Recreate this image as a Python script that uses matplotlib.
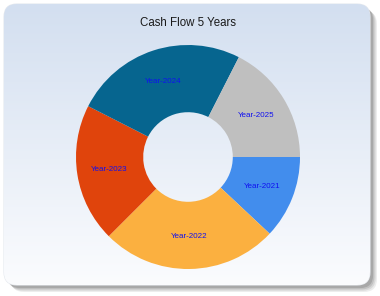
import numpy as np
import matplotlib

matplotlib.use('Agg')
import matplotlib.pyplot as plt
from matplotlib.patches import FancyBboxPatch
from matplotlib.colors import LinearSegmentedColormap

# chart data
years = ['Year-2021', 'Year-2022', 'Year-2023', 'Year-2024', 'Year-2025']
cash_flow = [12, 25.5, 20, 25, 17.5]
colors = ['#428ded', '#fbb040', '#e0440c', '#06658f', '#bfbfbf']
title = 'Cash Flow 5 Years'

W, H = 380, 296
fig = plt.figure(figsize=(W / 100, H / 100), dpi=100)
fig.patch.set_facecolor('white')

# background panel with shadow and gradient
bg = fig.add_axes([0, 0, 1, 1])
bg.axis('off')

px0, py0, px1, py1 = 4, 4, 370, 285
for i, a in enumerate([0.12, 0.16, 0.22, 0.3]):
    off = 7 - i * 1.3
    sh = FancyBboxPatch((px0 + off, py0 + off), px1 - px0, py1 - py0,
                        boxstyle='round,pad=0,rounding_size=13',
                        fc='#707070', ec='none', alpha=a)
    bg.add_patch(sh)

panel = FancyBboxPatch((px0, py0), px1 - px0, py1 - py0,
                       boxstyle='round,pad=0,rounding_size=13',
                       fc='none', ec='#e4e8ee', lw=0.8)
bg.add_patch(panel)
grad = np.linspace(0, 1, 256).reshape(-1, 1)
cmap = LinearSegmentedColormap.from_list('bgg', ['#d3dff0', '#fbfcfe'])
im = bg.imshow(grad, cmap=cmap, extent=[px0, px1, py1, py0], aspect='auto', zorder=1)
im.set_clip_path(panel)
bg.set_xlim(0, W)
bg.set_ylim(H, 0)

bg.text(188, 23, title, ha='center', va='center', fontsize=8.3,
        family='Liberation Sans', color='#1a1a1a', zorder=3)

# donut
cx, cy, r = 188, 157, 112
ax = fig.add_axes([(cx - r) / W, 1 - (cy + r) / H, 2 * r / W, 2 * r / H])
ax.patch.set_alpha(0)
wedges, texts = ax.pie(cash_flow, labels=years, colors=colors, startangle=0,
                       counterclock=False, radius=1, labeldistance=0.71,
                       wedgeprops=dict(width=0.6, linewidth=0),
                       textprops=dict(color='#1010f0', fontsize=5.8,
                                      family='Liberation Sans'))
for t in texts:
    t.set_ha('center')
    t.set_va('center')
ax.set_xlim(-1, 1)
ax.set_ylim(-1, 1)

fig.savefig('out.png', dpi=100)
